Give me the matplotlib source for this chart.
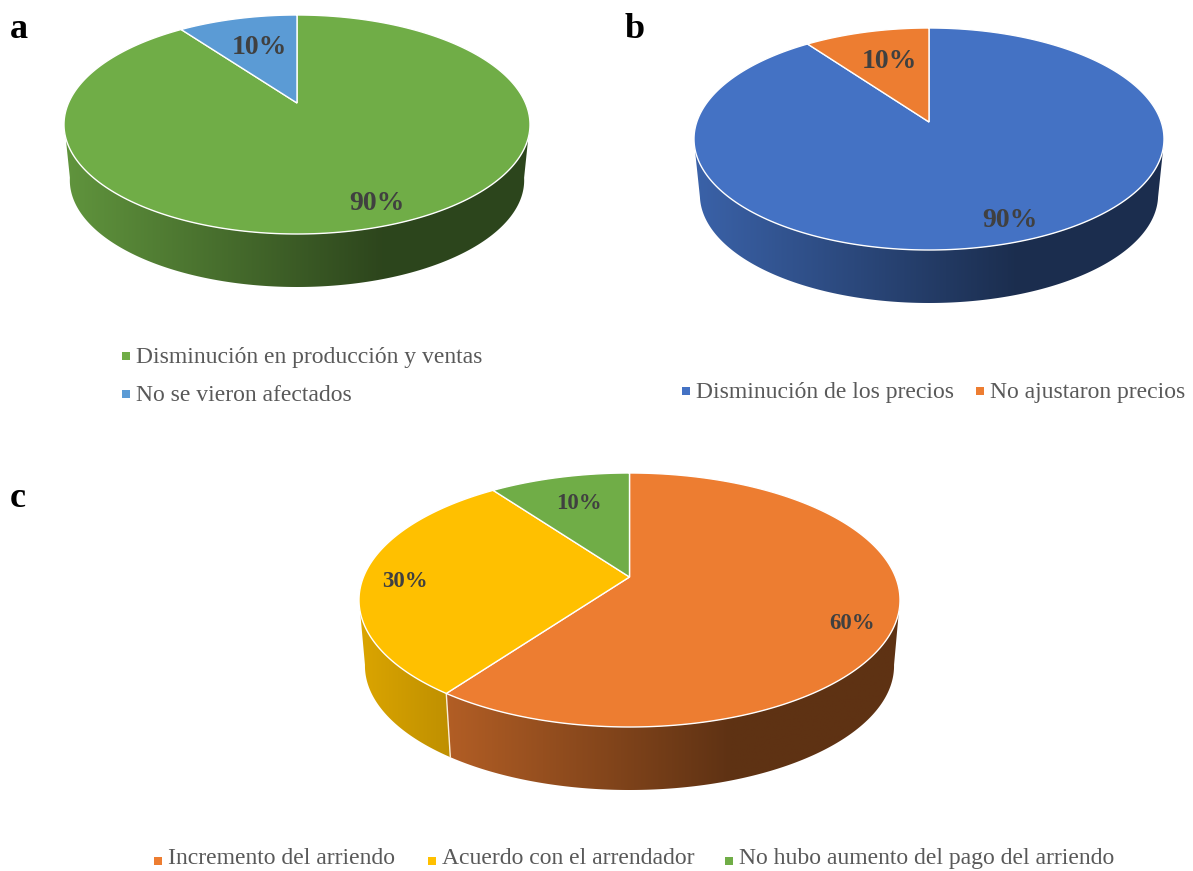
import numpy as np
import matplotlib
matplotlib.use('Agg')
from matplotlib import pyplot as plt
from matplotlib.patches import Polygon

plt.rcParams['font.family'] = ['Liberation Serif', 'DejaVu Serif']

# Valores de cada grafico (porcentajes, en sentido horario desde arriba)
valores_a = [90, 10]
valores_b = [90, 10]
valores_c = [60, 30, 10]

categorias_a = ['Disminución en producción y ventas', 'No se vieron afectados']
categorias_b = ['Disminución de los precios', 'No ajustaron precios']
categorias_c = ['Incremento del arriendo', 'Acuerdo con el arrendador',
                'No hubo aumento del pago del arriendo']

VERDE = '#70AD47'
AZUL_CLARO = '#5B9BD5'
AZUL = '#4472C4'
NARANJA = '#ED7D31'
AMARILLO = '#FFC000'

# Rango del borde que se ve de frente (grados desde arriba)
FRENTE = (100, 260)


def rim(g, theta, s=1.0, dy=0.0):
    # Proyeccion en perspectiva del borde del disco
    t = np.radians(theta)
    x, y = np.sin(t), np.cos(t)
    k = (g['abajo'] - g['arriba']) / (g['abajo'] + g['arriba'])
    b = g['arriba'] * (1 + k)
    a = g['rx'] * np.sqrt(1 - k ** 2)
    w = 1 + k * y
    return g['cx'] + s * a * x / w, g['cy'] + dy - s * b * y / w


def shade(frac):
    # Oscurecimiento de la pared de izquierda a derecha
    return np.clip(0.86 - 0.67 * frac, 0.40, 1)


def pared(ax, g, color, t1, t2):
    t1, t2 = max(t1, FRENTE[0]), min(t2, FRENTE[1])
    if t2 <= t1:
        return
    s = g['escala']
    dy = g['fondo'] - g['cy'] - s * g['abajo']
    th = np.linspace(t1, t2, 200)
    xs, ys = rim(g, th)
    xb, yb = rim(g, th[::-1], s, dy)
    pts = np.column_stack([np.r_[xs, xb], np.r_[ys, yb]])
    clip = Polygon(pts, closed=True, transform=ax.transData, fc='none', ec='none')
    ax.add_patch(clip)

    x0, x1, y0, y1 = pts[:, 0].min(), pts[:, 0].max(), pts[:, 1].min(), pts[:, 1].max()
    cols = np.linspace(x0, x1, 256)
    frac = (cols - (g['cx'] - g['rx'])) / (2 * g['rx'])
    rgb = np.array(matplotlib.colors.to_rgb(color))
    img = (shade(frac)[:, None] * rgb)[None, :, :]
    im = ax.imshow(img, extent=(x0, x1, y1, y0), aspect='auto', zorder=1,
                   interpolation='bilinear')
    im.set_clip_path(clip)


def pie3d(ax, g, valores, colores):
    bordes = np.cumsum([0] + valores) * 360 / sum(valores)
    for color, t1, t2 in zip(colores, bordes[:-1], bordes[1:]):
        pared(ax, g, color, t1, t2)
    s = g['escala']
    dy = g['fondo'] - g['cy'] - s * g['abajo']
    for t in bordes[:-1]:
        if FRENTE[0] < t < FRENTE[1]:
            xa, ya = rim(g, t)
            xb, yb = rim(g, t, s, dy)
            ax.plot([xa, xb], [ya, yb], color='#FBEFD8', lw=1, zorder=2)
    for color, t1, t2 in zip(colores, bordes[:-1], bordes[1:]):
        xs, ys = rim(g, np.linspace(t1, t2, 300))
        ax.fill(np.r_[g['cx'], xs], np.r_[g['cy'], ys], facecolor=color,
                edgecolor='white', lw=1, zorder=3)


def etiquetas(ax, valores, posiciones, size):
    for v, (x, y) in zip(valores, posiciones):
        ax.text(x, y, f'{v}%', fontsize=size, fontweight='bold', color='#404040',
                ha='center', va='center', zorder=5)


def leyenda(ax, categorias, colores, posiciones, dy=1):
    for cat, color, (x, y) in zip(categorias, colores, posiciones):
        ax.scatter([x], [y], marker='s', s=34, color=color, linewidths=0, zorder=5)
        ax.text(x + 10, y + dy, cat, fontsize=17, color='#595959', ha='left', va='center')


def main():
    fig = plt.figure(figsize=(11.93, 8.71), dpi=100)
    ax = fig.add_axes([0, 0, 1, 1])

    geo_a = dict(cx=297, cy=103, arriba=88, abajo=131, rx=233, fondo=287, escala=0.975)
    geo_b = dict(cx=929, cy=122, arriba=94, abajo=128, rx=235, fondo=303, escala=0.975)
    geo_c = dict(cx=629.5, cy=577, arriba=104, abajo=150, rx=270.5, fondo=790, escala=0.978)

    colores_a = [VERDE, AZUL_CLARO]
    colores_b = [AZUL, NARANJA]
    colores_c = [NARANJA, AMARILLO, VERDE]

    pie3d(ax, geo_a, valores_a, colores_a)
    pie3d(ax, geo_b, valores_b, colores_b)
    pie3d(ax, geo_c, valores_c, colores_c)

    etiquetas(ax, valores_a, [(377, 203), (259, 48)], 20)
    etiquetas(ax, valores_b, [(1010, 220), (889, 62)], 20)
    etiquetas(ax, valores_c, [(852, 623), (405, 581), (579, 503)], 16.5)

    leyenda(ax, categorias_a, colores_a, [(126, 356), (126, 394)])
    leyenda(ax, categorias_b, colores_b, [(686, 391), (980, 391)])
    # La ultima leyenda queda pegada al borde inferior, el texto sube un poco
    leyenda(ax, categorias_c, colores_c, [(158, 861), (432, 861), (729, 861)], dy=-3)

    for letra, x, y in [('a', 10, 38), ('b', 625, 38), ('c', 10, 507)]:
        ax.text(x, y, letra, fontsize=26, fontweight='bold', color='black',
                ha='left', va='baseline')

    ax.set_xlim(0, 1193)
    ax.set_ylim(871, 0)
    ax.axis('off')
    fig.savefig('out.png', dpi=100, facecolor='white')


if __name__ == '__main__':
    main()
